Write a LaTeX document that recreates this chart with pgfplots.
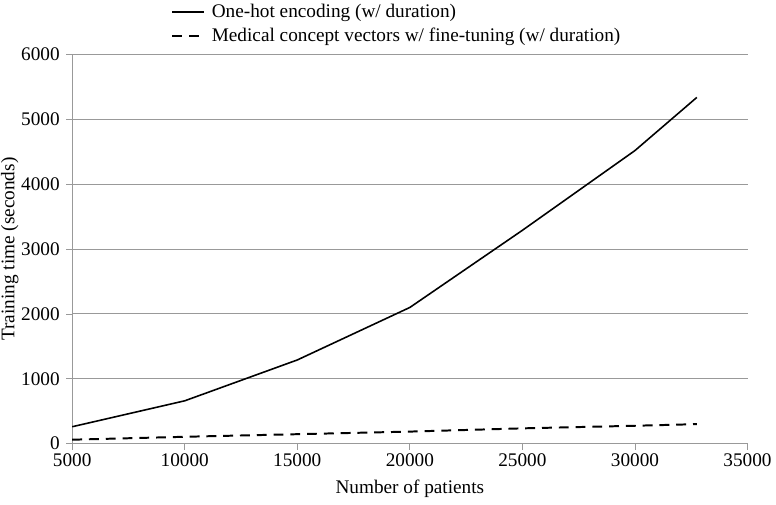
\documentclass[border=0pt]{standalone}
\usepackage{fontspec}
\setmainfont{Liberation Serif}
\usepackage{pgfplots}
\pgfplotsset{compat=1.18}
\begin{document}
\fontsize{19.5}{23}\selectfont
\begin{tikzpicture}
\begin{axis}[
  width=684pt, height=394pt, scale only axis,
  xmin=5000, xmax=35000, ymin=0, ymax=6000,
  xtick={5000,10000,...,35000}, ytick={0,1000,...,6000},
  /pgf/number format/assume math mode=true,
  /pgf/number format/1000 sep={},
  scaled ticks=false,
  axis lines=left,
  axis line style={-, draw=gray!80, line width=1pt},
  tick style={draw=gray!80, line width=0.8pt},
  tick align=outside, major tick length=6pt,
  ymajorgrids, grid style={gray!80, line width=1pt},
  tick label style={font=\fontsize{19.5}{23}\selectfont},
  xticklabel style={yshift=2pt},
  xlabel={Number of patients}, ylabel={Training time (seconds)},
  label style={font=\fontsize{19.5}{23}\selectfont},
  ylabel style={inner sep=1pt, yshift=-5pt},
  legend style={draw=none, fill=none, at={(axis description cs:0.148,1)}, anchor=south west, yshift=6pt, xshift=-4pt,
    font=\fontsize{19.5}{23}\selectfont, row sep=4pt, legend cell align=left,
    /tikz/every odd column/.append style={column sep=5pt}},
  legend image code/.code={\draw[#1] (0pt,0pt) -- (32pt,0pt);},
]
\addplot[black, line width=1.6pt] coordinates {(5000,260) (10000,660) (15000,1290) (20000,2100) (25000,3290) (30000,4520) (32750,5340)};
\addlegendentry{One-hot encoding (w/ duration)}
\addplot[black, line width=2pt, dash pattern=on 10pt off 7pt] coordinates {(5000,60) (10000,105) (15000,145) (20000,185) (25000,235) (30000,275) (32750,300)};
\addlegendentry{Medical concept vectors w/ fine-tuning (w/ duration)}
\end{axis}
\pgfresetboundingbox
\path (current axis.outer south west) rectangle ([xshift=-2pt]current axis.outer north east);
\end{tikzpicture}
\end{document}
